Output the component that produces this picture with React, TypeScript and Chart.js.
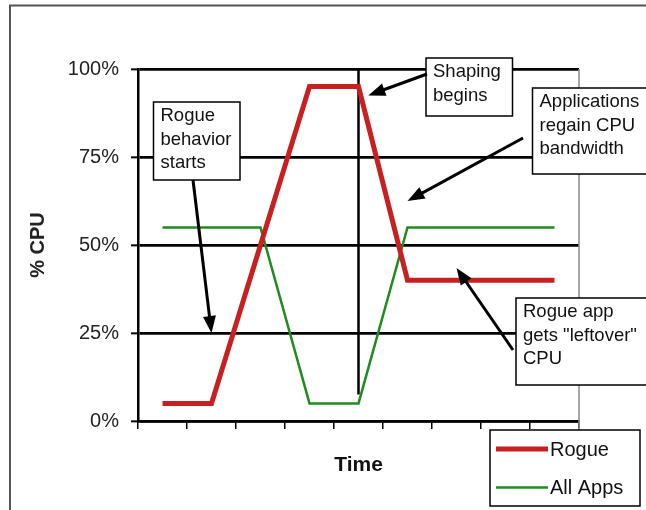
import React, { useEffect, useRef } from 'react';
import { Chart, registerables } from 'chart.js';

Chart.register(...registerables);

// ---- data ----
const timeSteps = ['t1', 't2', 't3', 't4', 't5', 't6', 't7', 't8', 't9'];
const rogueCpu = [5, 5, 50, 95, 95, 40, 40, 40, 40];
const allAppsCpu = [55, 55, 55, 5, 5, 55, 55, 55, 55];
const yTickValues = [0, 25, 50, 75, 100];
const seriesNames = ['Rogue', 'All Apps'];
const seriesColors = ['#c82020', '#218a21'];
const seriesWidths = [5, 2.5];

// vertical "shaping" marker (category index, from %, to %)
const shapingMarker = { index: 4, from: 100, to: 7.5 };

// callout texts; arrow tips are in data units (category index, %)
const calloutTexts = [
  ['Rogue', 'behavior', 'starts'],
  ['Shaping', 'begins'],
  ['Applications', 'regain CPU', 'bandwidth'],
  ['Rogue app', 'gets "leftover"', 'CPU'],
];
const calloutTips = [
  { i: 1, v: 25 },
  { i: 4.2, v: 92.5 },
  { i: 5, v: 62.5 },
  { i: 6, v: 43.5 },
];
// layout of callout boxes / arrow tails (pixels)
const calloutBoxes = [
  { x: 153.5, y: 102, w: 86.5, h: 78, tx: 193, ty: 180 },
  { x: 426, y: 58, w: 86.5, h: 58, tx: 427, ty: 74 },
  { x: 532.5, y: 88, w: 125, h: 86, tx: 523, ty: 138 },
  { x: 516, y: 298, w: 135, h: 87, tx: 513, ty: 350 },
];

const FONT = '"Liberation Sans", Arial, sans-serif';

function drawArrow(ctx: CanvasRenderingContext2D, x1: number, y1: number, x2: number, y2: number) {
  const dx = x2 - x1;
  const dy = y2 - y1;
  const len = Math.hypot(dx, dy);
  const ux = dx / len;
  const uy = dy / len;
  const headLen = 17;
  const headHalf = 6.5;
  const bx = x2 - ux * headLen;
  const by = y2 - uy * headLen;
  ctx.beginPath();
  ctx.moveTo(x1, y1);
  ctx.lineTo(bx + ux * 2, by + uy * 2);
  ctx.lineWidth = 3;
  ctx.strokeStyle = '#000';
  ctx.stroke();
  ctx.beginPath();
  ctx.moveTo(x2, y2);
  ctx.lineTo(bx - uy * headHalf, by + ux * headHalf);
  ctx.lineTo(bx + uy * headHalf, by - ux * headHalf);
  ctx.closePath();
  ctx.fillStyle = '#000';
  ctx.fill();
}

const framePlugin = {
  id: 'frame',
  beforeDraw(chart: any) {
    const { ctx, width, height } = chart;
    ctx.save();
    ctx.fillStyle = '#fff';
    ctx.fillRect(0, 0, width, height);
    ctx.strokeStyle = '#555';
    ctx.lineWidth = 2;
    ctx.beginPath();
    ctx.moveTo(10, height + 5);
    ctx.lineTo(10, 5.5);
    ctx.lineTo(width + 5, 5.5);
    ctx.stroke();
    ctx.restore();
  },
  beforeDatasetsDraw(chart: any) {
    const { ctx, chartArea, scales } = chart;
    ctx.save();
    // right edge of plot area
    ctx.strokeStyle = '#8a8a8a';
    ctx.lineWidth = 1.5;
    ctx.beginPath();
    ctx.moveTo(chartArea.right, chartArea.top);
    ctx.lineTo(chartArea.right, chartArea.bottom + 9);
    ctx.stroke();
    // shaping marker
    const x = scales.x.getPixelForValue(shapingMarker.index);
    ctx.strokeStyle = '#000';
    ctx.lineWidth = 2.5;
    ctx.beginPath();
    ctx.moveTo(x, scales.y.getPixelForValue(shapingMarker.from));
    ctx.lineTo(x, scales.y.getPixelForValue(shapingMarker.to));
    ctx.stroke();
    ctx.restore();
  },
  afterDatasetsDraw(chart: any) {
    const { ctx, scales } = chart;
    ctx.save();
    calloutTexts.forEach((lines, k) => {
      const b = calloutBoxes[k];
      const tip = calloutTips[k];
      const px = scales.x.getPixelForValue(tip.i);
      const py = scales.y.getPixelForValue(tip.v);
      ctx.fillStyle = '#fff';
      ctx.fillRect(b.x, b.y, b.w, b.h);
      ctx.strokeStyle = '#000';
      ctx.lineWidth = 1.5;
      ctx.strokeRect(b.x, b.y, b.w, b.h);
      ctx.fillStyle = '#111';
      ctx.font = `18.5px ${FONT}`;
      ctx.textAlign = 'left';
      ctx.textBaseline = 'middle';
      lines.forEach((t, j) => {
        ctx.fillText(t, b.x + 7, b.y + 14 + j * 23.5);
      });
      drawArrow(ctx, b.tx, b.ty, px, py);
    });
    ctx.restore();
  },
  afterDraw(chart: any) {
    const { ctx } = chart;
    const lx = 490, ly = 430, lw = 150, lh = 76;
    ctx.save();
    ctx.fillStyle = '#fff';
    ctx.fillRect(lx, ly, lw, lh);
    ctx.strokeStyle = '#000';
    ctx.lineWidth = 1.5;
    ctx.strokeRect(lx, ly, lw, lh);
    chart.data.datasets.forEach((ds: any, k: number) => {
      const cy = ly + 19 + k * 38.5;
      ctx.strokeStyle = ds.borderColor;
      ctx.lineWidth = ds.borderWidth;
      ctx.beginPath();
      ctx.moveTo(lx + 6, cy);
      ctx.lineTo(lx + 58, cy);
      ctx.stroke();
      ctx.fillStyle = '#111';
      ctx.font = `20px ${FONT}`;
      ctx.textAlign = 'left';
      ctx.textBaseline = 'middle';
      ctx.fillText(ds.label, lx + 60, cy + 1);
    });
    ctx.restore();
  },
};

export default function App() {
  const ref = useRef<HTMLCanvasElement>(null);
  useEffect(() => {
    if (!ref.current) return;
    const chart = new Chart(ref.current, {
      type: 'line',
      data: {
        labels: timeSteps,
        datasets: [
          {
            label: seriesNames[0],
            data: rogueCpu,
            borderColor: seriesColors[0],
            backgroundColor: seriesColors[0],
            borderWidth: seriesWidths[0],
            pointRadius: 0,
            tension: 0,
          },
          {
            label: seriesNames[1],
            data: allAppsCpu,
            borderColor: seriesColors[1],
            backgroundColor: seriesColors[1],
            borderWidth: seriesWidths[1],
            pointRadius: 0,
            tension: 0,
          },
        ],
      },
      options: {
        animation: false,
        responsive: false,
        devicePixelRatio: 1,
        layout: { padding: { left: 0, top: 69, right: 67, bottom: 0 } },
        plugins: { legend: { display: false }, tooltip: { enabled: false } },
        scales: {
          x: {
            offset: true,
            ticks: { display: false },
            grid: {
              offset: true,
              drawOnChartArea: false,
              drawTicks: true,
              tickLength: 8,
              color: '#000',
              tickColor: '#000',
              lineWidth: 1.5,
              tickWidth: 1.5,
            },
            border: { color: '#000', width: 2.5 },
            title: {
              display: true,
              text: 'Time',
              color: '#111',
              font: { family: FONT, size: 21, weight: 'bold' },
              padding: { top: 0, bottom: 32 },
            },
            afterFit: (s: any) => {
              s.height = 89;
            },
          },
          y: {
            min: 0,
            max: 100,
            afterBuildTicks: (s: any) => {
              s.ticks = yTickValues.map((v) => ({ value: v }));
            },
            ticks: {
              callback: (v: any) => v + '%',
              color: '#222',
              font: { family: FONT, size: 20 },
              padding: 12,
            },
            grid: {
              color: '#000',
              lineWidth: 2.7,
              tickLength: 7,
              tickColor: '#000',
              tickWidth: 2,
            },
            border: { color: '#000', width: 2.5 },
            title: {
              display: true,
              text: '% CPU',
              color: '#222',
              font: { family: FONT, size: 20, weight: 'bold' },
              padding: { top: 26, bottom: 0 },
            },
            afterFit: (s: any) => {
              s.width = 138;
            },
          },
        },
      } as any,
      plugins: [framePlugin],
    });
    return () => chart.destroy();
  }, []);
  return (
    <div style={{ position: 'fixed', left: 0, top: 0, width: 646, height: 510, background: '#fff' }}>
      <canvas ref={ref} width={646} height={510} style={{ display: 'block', width: 646, height: 510 }} />
    </div>
  );
}
